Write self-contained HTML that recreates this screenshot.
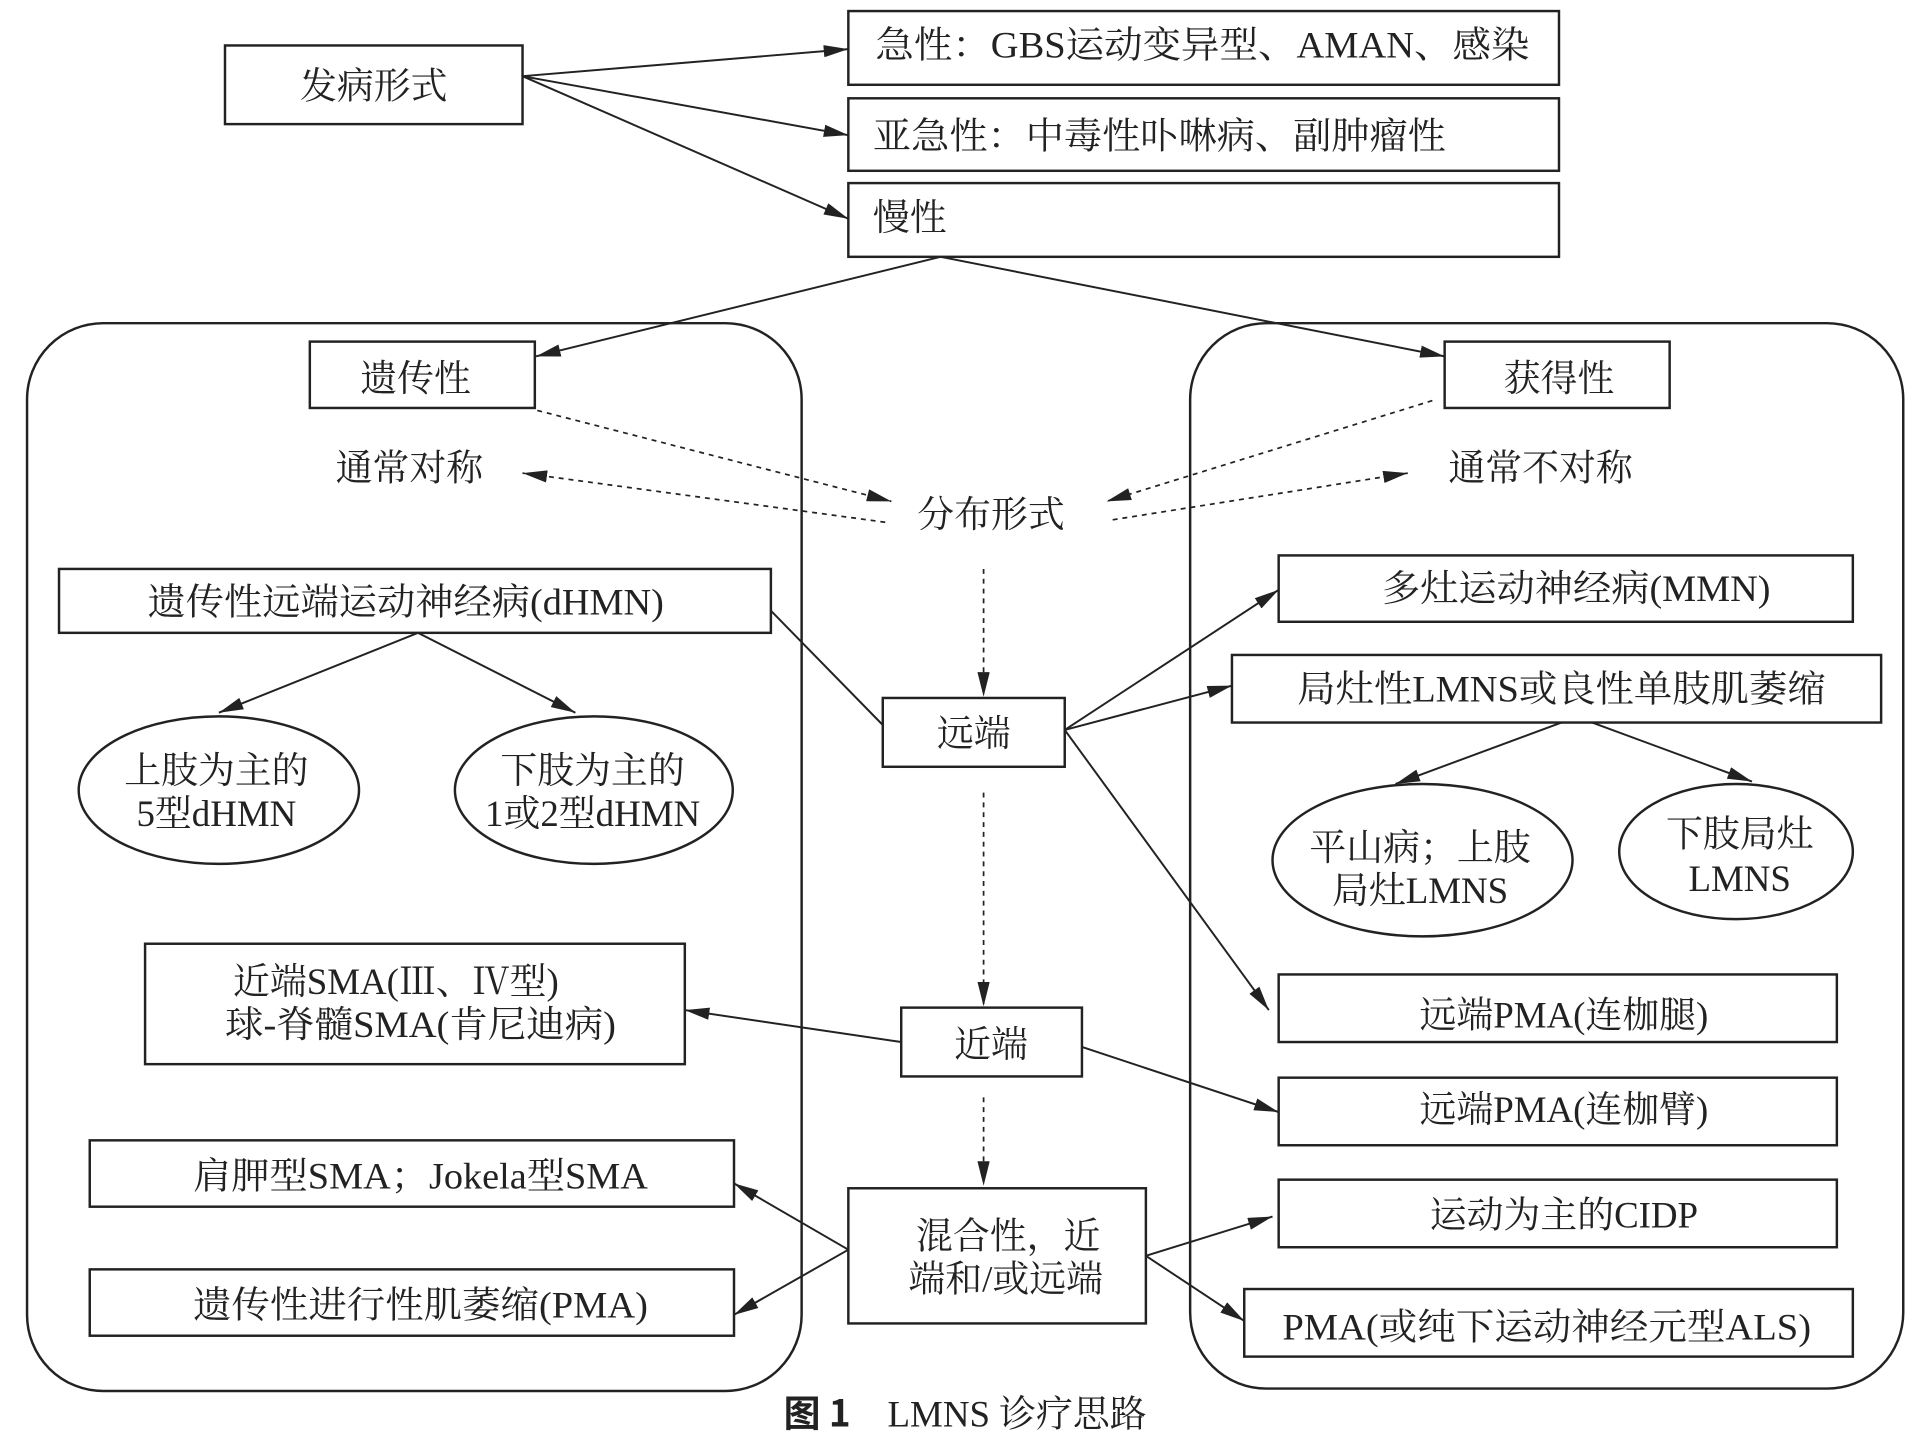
<!DOCTYPE html>
<html><head><meta charset="utf-8"><style>
html,body{margin:0;padding:0;background:#fff;}
svg{display:block;}
text{font-family:"Liberation Serif","Noto Serif CJK SC","Noto Sans CJK SC",serif;font-size:30px;fill:#222;}
</style></head><body>
<svg width="1918" height="1450" viewBox="0 0 1560 1180" preserveAspectRatio="none" xmlns="http://www.w3.org/2000/svg">
<defs>
<marker id="a" viewBox="0 0 20 10" refX="20" refY="5" markerWidth="20" markerHeight="10" markerUnits="userSpaceOnUse" orient="auto">
<path d="M0,0 L20,5 L0,10 z" fill="#222"/></marker>
</defs>
<g fill="none" stroke="#222" stroke-width="2">
<rect x="22" y="263" width="630" height="869" rx="62"/>
<rect x="968" y="263" width="580" height="867" rx="62"/>
<rect x="183" y="37" width="242" height="64"/>
<rect x="690" y="9" width="578" height="60"/>
<rect x="690" y="80" width="578" height="59"/>
<rect x="690" y="149" width="578" height="60"/>
<rect x="252" y="278" width="183" height="54"/>
<rect x="1175" y="278" width="183" height="54"/>
<rect x="48" y="463" width="579" height="52"/>
<rect x="718" y="568" width="148" height="56"/>
<ellipse cx="178" cy="643" rx="114" ry="60"/>
<ellipse cx="483" cy="643" rx="113" ry="60"/>
<rect x="1040" y="452" width="467" height="54"/>
<rect x="1002" y="533" width="528" height="55"/>
<ellipse cx="1157" cy="700" rx="122" ry="62"/>
<ellipse cx="1412" cy="693" rx="95" ry="55"/>
<rect x="118" y="768" width="439" height="98"/>
<rect x="733" y="820" width="147" height="56"/>
<rect x="1040" y="793" width="454" height="55"/>
<rect x="1040" y="877" width="454" height="55"/>
<rect x="73" y="928" width="524" height="54"/>
<rect x="73" y="1033" width="524" height="54"/>
<rect x="690" y="967" width="242" height="110"/>
<rect x="1040" y="960" width="454" height="55"/>
<rect x="1012" y="1049" width="495" height="55"/>
</g>
<g stroke="#222" stroke-width="1.6" fill="none">
<line x1="425" y1="62" x2="690" y2="40" marker-end="url(#a)"/>
<line x1="425" y1="62" x2="690" y2="110" marker-end="url(#a)"/>
<line x1="425" y1="62" x2="690" y2="178" marker-end="url(#a)"/>
<line x1="765" y1="209" x2="436" y2="290" marker-end="url(#a)"/>
<line x1="765" y1="209" x2="1175" y2="290" marker-end="url(#a)"/>
<line x1="627" y1="497" x2="718" y2="590"/>
<line x1="340" y1="515" x2="178" y2="580" marker-end="url(#a)"/>
<line x1="340" y1="515" x2="468" y2="580" marker-end="url(#a)"/>
<line x1="866" y1="594" x2="1040" y2="480" marker-end="url(#a)"/>
<line x1="866" y1="594" x2="1002" y2="558" marker-end="url(#a)"/>
<line x1="866" y1="594" x2="1032" y2="822" marker-end="url(#a)"/>
<line x1="1270" y1="588" x2="1135" y2="638" marker-end="url(#a)"/>
<line x1="1295" y1="588" x2="1425" y2="636" marker-end="url(#a)"/>
<line x1="733" y1="848" x2="557" y2="822" marker-end="url(#a)"/>
<line x1="880" y1="852" x2="1040" y2="905" marker-end="url(#a)"/>
<line x1="690" y1="1017" x2="597" y2="963" marker-end="url(#a)"/>
<line x1="690" y1="1017" x2="597" y2="1070" marker-end="url(#a)"/>
<line x1="932" y1="1022" x2="1035" y2="990" marker-end="url(#a)"/>
<line x1="932" y1="1022" x2="1012" y2="1075" marker-end="url(#a)"/>
</g>
<g stroke="#222" stroke-width="1.4" fill="none" stroke-dasharray="4,4">
<line x1="437" y1="334" x2="725" y2="408" marker-end="url(#a)"/>
<line x1="720" y1="425" x2="425" y2="385" marker-end="url(#a)"/>
<line x1="1165" y1="326" x2="900" y2="408" marker-end="url(#a)"/>
<line x1="905" y1="423" x2="1145" y2="385" marker-end="url(#a)"/>
<line x1="800" y1="463" x2="800" y2="567" marker-end="url(#a)"/>
<line x1="800" y1="645" x2="800" y2="819" marker-end="url(#a)"/>
<line x1="800" y1="893" x2="800" y2="965" marker-end="url(#a)"/>
</g>
<g>
<text x="304" y="80" text-anchor="middle">发病形式</text>
<text x="712" y="47" textLength="532" lengthAdjust="spacingAndGlyphs">急性：GBS运动变异型、AMAN、感染</text>
<text x="710" y="121" textLength="466" lengthAdjust="spacingAndGlyphs">亚急性：中毒性卟啉病、副肿瘤性</text>
<text x="710" y="187">慢性</text>
<text x="338" y="318" text-anchor="middle">遗传性</text>
<text x="1268" y="318" text-anchor="middle">获得性</text>
<text x="333" y="391" text-anchor="middle">通常对称</text>
<text x="1253" y="391" text-anchor="middle">通常不对称</text>
<text x="806" y="429" text-anchor="middle">分布形式</text>
<text x="330" y="500" text-anchor="middle" textLength="420" lengthAdjust="spacingAndGlyphs">遗传性远端运动神经病(dHMN)</text>
<text x="792" y="607" text-anchor="middle">远端</text>
<text x="176" y="637" text-anchor="middle">上肢为主的</text>
<text x="176" y="672" text-anchor="middle">5型dHMN</text>
<text x="482" y="637" text-anchor="middle">下肢为主的</text>
<text x="482" y="672" text-anchor="middle">1或2型dHMN</text>
<text x="1282" y="489" text-anchor="middle" textLength="316" lengthAdjust="spacingAndGlyphs">多灶运动神经病(MMN)</text>
<text x="1270" y="571" text-anchor="middle" textLength="430" lengthAdjust="spacingAndGlyphs">局灶性LMNS或良性单肢肌萎缩</text>
<text x="1155" y="700" text-anchor="middle">平山病；上肢</text>
<text x="1155" y="735" text-anchor="middle">局灶LMNS</text>
<text x="1415" y="689" text-anchor="middle">下肢局灶</text>
<text x="1415" y="725" text-anchor="middle">LMNS</text>
<text x="322" y="809" text-anchor="middle">近端SMA(Ⅲ、Ⅳ型)</text>
<text x="342" y="844" text-anchor="middle" textLength="318" lengthAdjust="spacingAndGlyphs">球-脊髓SMA(肯尼迪病)</text>
<text x="1272" y="836" text-anchor="middle">远端PMA(连枷腿)</text>
<text x="1272" y="913" text-anchor="middle">远端PMA(连枷臂)</text>
<text x="806" y="860" text-anchor="middle">近端</text>
<text x="342" y="967" text-anchor="middle" textLength="370" lengthAdjust="spacingAndGlyphs">肩胛型SMA；Jokela型SMA</text>
<text x="342" y="1072" text-anchor="middle" textLength="370" lengthAdjust="spacingAndGlyphs">遗传性进行性肌萎缩(PMA)</text>
<text x="820" y="1016" text-anchor="middle">混合性，近</text>
<text x="818" y="1051" text-anchor="middle">端和/或远端</text>
<text x="1272" y="999" text-anchor="middle">运动为主的CIDP</text>
<text x="1258" y="1090" text-anchor="middle" textLength="430" lengthAdjust="spacingAndGlyphs">PMA(或纯下运动神经元型ALS)</text>
<text x="785" y="1161" text-anchor="middle"><tspan font-weight="bold" font-family="'Noto Sans CJK SC',sans-serif">图 1</tspan>　LMNS 诊疗思路</text>
</g>
</svg>
</body></html>
